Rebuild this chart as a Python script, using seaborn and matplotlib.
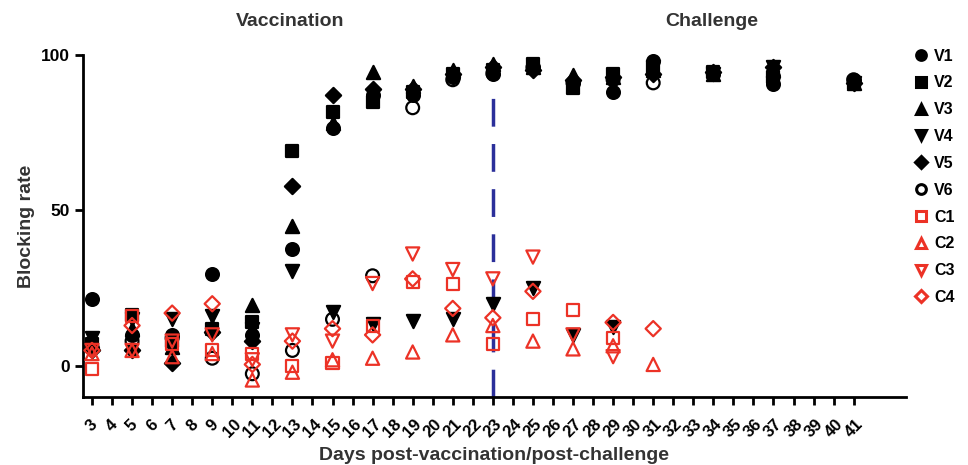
import numpy as np
import pandas as pd
import matplotlib
matplotlib.use("Agg")
import matplotlib.pyplot as plt
from matplotlib.lines import Line2D
import seaborn as sns

# sampling days
v_days = [3, 5, 7, 9, 11, 13, 15, 17, 19, 21, 23, 25, 27, 29, 31, 34, 37, 41]
c_days = [3, 5, 7, 9, 11, 13, 15, 17, 19, 21, 23, 25, 27, 29, 31]

# vaccinated pigs
V1 = [21.5, 10, 10, 29.5, 10, 37.5, 76.5, 87, 87, 93, 94, 96, 91, 88, 98, 94, 90.5, 92]
V2 = [7, 16.5, 8, 12, 14, 69, 81.5, 85, 88, 94, 95, 97, 89.5, 94, 96, 94.5, 93, 91]
V3 = [8, 12, 6, 13, 19.5, 45, 78, 94.5, 90, 95, 97, 96, 93.5, 93, 95, 94, 95, 91]
V4 = [9, 15, 15, 16, 12, 30.5, 17.5, 13.5, 14.5, 15, 20, 25, 10, 12.5, 96, 94, 96, 91]
V5 = [5, 5, 1, 11, 8, 58, 87, 89, 89, 94, 96, 95, 92, 93, 94, 94.5, 96, 91]
V6 = [6, 8, 9, 2.5, -2.5, 5, 15, 29, 83, 92, 94, 96, 91, 92, 91, 94, 93, 92]

# control pigs
C1 = [-1, 16, 7, 5, 4, 0, 1, 13, 27, 26.5, 7, 15, 18, 9, np.nan]
C2 = [4, 5, 3, 4, -4.5, -2, 2, 2.5, 4.5, 10, 13, 8, 5.5, 6.5, 0.5]
C3 = [5, 5, 8, 10, 2, 10, 8, 26.5, 36, 31, 28, 35, 10, 3, np.nan]
C4 = [5, 13, 17, 20, 0.5, 8, 12, 10, 28, 18.5, 15.5, 24, np.nan, 14, 12]

challenge_day = 23
x_ticks = list(range(3, 42))
y_ticks = [0, 50, 100]

RED = "#ec3226"
plt.rcParams["font.family"] = ["Liberation Sans", "DejaVu Sans"]
plt.rcParams["font.weight"] = "bold"

rows = []
for name, vals in zip(["V1", "V2", "V3", "V4", "V5", "V6"], [V1, V2, V3, V4, V5, V6]):
    for d, v in zip(v_days, vals):
        rows.append((name, d, v))
for name, vals in zip(["C1", "C2", "C3", "C4"], [C1, C2, C3, C4]):
    for d, v in zip(c_days, vals):
        rows.append((name, d, v))
df = pd.DataFrame(rows, columns=["pig", "day", "rate"]).dropna()

# marker, face, edge
styles = {
    "V1": ("o", "black", "black"),
    "V2": ("s", "black", "black"),
    "V3": ("^", "black", "black"),
    "V4": ("v", "black", "black"),
    "V5": ("D", "black", "black"),
    "V6": ("o", "none", "black"),
    "C1": ("s", "none", RED),
    "C2": ("^", "none", RED),
    "C3": ("v", "none", RED),
    "C4": ("D", "none", RED),
}
sizes = {"o": 85, "s": 75, "^": 90, "v": 90, "D": 60}

fig = plt.figure(figsize=(9.68, 4.65), dpi=100)
ax = fig.add_axes([0.0857, 0.146, 0.85, 0.736])

ax.plot([challenge_day, challenge_day], [-10, 88], color="#2b2f9a", lw=2.5,
        dashes=(8, 5), zorder=1)

for pig, (m, fc, ec) in styles.items():
    sub = df[df["pig"] == pig]
    sns.scatterplot(data=sub, x="day", y="rate", ax=ax, marker=m, s=sizes[m],
                    facecolor=fc, edgecolor=ec, linewidth=1.6, clip_on=False,
                    zorder=3, legend=False)

ax.set_xlim(2.55, 43.6)
ax.set_ylim(-10, 100)
ax.set_xticks(x_ticks)
ax.set_xticklabels([str(t) for t in x_ticks], rotation=45, ha="center",
                   fontsize=12, fontweight="bold")
ax.set_yticks(y_ticks)
ax.set_yticklabels([str(t) for t in y_ticks], fontsize=12.5, fontweight="bold")
sns.despine(ax=ax)
for s in ["left", "bottom"]:
    ax.spines[s].set_linewidth(2)
ax.tick_params(axis="both", width=2, length=6, direction="out")
ax.tick_params(axis="x", pad=8)
ax.set_xlabel("Days post-vaccination/post-challenge", fontsize=14,
              fontweight="bold", color="#333333", labelpad=5)
ax.set_ylabel("Blocking rate", fontsize=14, fontweight="bold",
              color="#333333", labelpad=4)

fig.text(290 / 968, 1 - 22 / 465, "Vaccination", ha="center", va="center",
         fontsize=14, fontweight="bold", color="#333333")
fig.text(712 / 968, 1 - 22 / 465, "Challenge", ha="center", va="center",
         fontsize=14, fontweight="bold", color="#333333")

handles = []
for pig, (m, fc, ec) in styles.items():
    handles.append(Line2D([], [], ls="none", marker=m, markersize=7 if m != "D" else 6,
                          markerfacecolor=fc, markeredgecolor=ec,
                          markeredgewidth=2.2, label=pig))
leg = fig.legend(handles=handles, loc="upper left",
                 bbox_to_anchor=(902 / 968, 1 - 39 / 465), frameon=False,
                 fontsize=11.5, labelspacing=0.74, handletextpad=0.2,
                 handlelength=1.2, borderaxespad=0.2)
for t in leg.get_texts():
    t.set_fontweight("bold")

fig.savefig("out.png", dpi=100)
